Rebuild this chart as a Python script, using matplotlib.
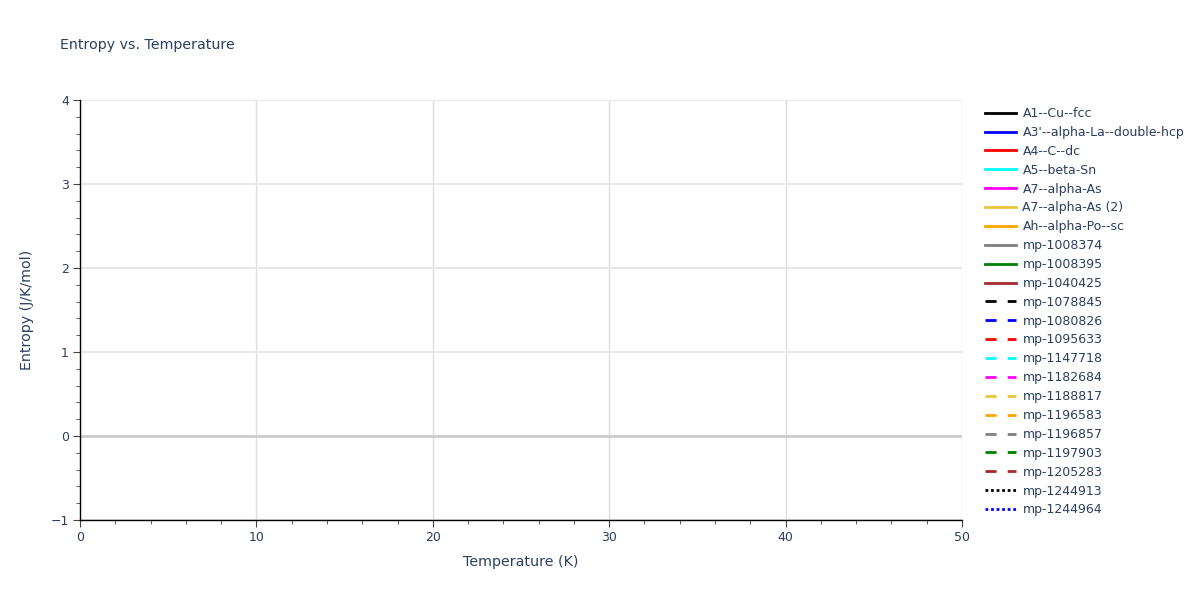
import matplotlib
matplotlib.use("Agg")
import matplotlib.pyplot as plt
from matplotlib.ticker import MultipleLocator

# series names, colours and dash styles (no points fall inside the plotted range)
names = [
    "A1--Cu--fcc", "A3'--alpha-La--double-hcp", "A4--C--dc", "A5--beta-Sn",
    "A7--alpha-As", "A7--alpha-As (2)", "Ah--alpha-Po--sc", "mp-1008374",
    "mp-1008395", "mp-1040425", "mp-1078845", "mp-1080826", "mp-1095633",
    "mp-1147718", "mp-1182684", "mp-1188817", "mp-1196583", "mp-1196857",
    "mp-1197903", "mp-1205283", "mp-1244913", "mp-1244964",
]
colors = [
    "black", "blue", "red", "cyan", "magenta", "#e8c53a", "orange", "gray",
    "green", "brown",
    "black", "blue", "red", "cyan", "magenta", "#e8c53a", "orange", "gray",
    "green", "brown",
    "black", "blue",
]
styles = ["solid"] * 10 + ["dash"] * 10 + ["dot"] * 2
temperature = [[] for _ in names]
entropy = [[] for _ in names]

dash_map = {"solid": "-", "dash": (0, (4, 4)), "dot": (0, (1, 1))}
text_color = "#2a3f5f"

fig = plt.figure(figsize=(12, 6), dpi=100)
ax = fig.add_axes([80 / 1200, 80 / 600, 882 / 1200, 420 / 600])

for name, c, s, x, y in zip(names, colors, styles, temperature, entropy):
    ax.plot(x, y, color=c, linestyle=dash_map[s], linewidth=2, label=name)

ax.set_xlim(0, 50)
ax.set_ylim(-1, 4)
ax.xaxis.set_major_locator(MultipleLocator(10))
ax.xaxis.set_minor_locator(MultipleLocator(2))
ax.yaxis.set_major_locator(MultipleLocator(1))
ax.yaxis.set_minor_locator(MultipleLocator(0.2))

ax.grid(True, which="major", axis="x", color="#dddddd", linewidth=1)
ax.grid(True, which="major", axis="y", color="#e8e8e8", linewidth=1.5)
ax.axhline(0, color="#cccccc", linewidth=2, zorder=1)
ax.set_axisbelow(True)

for side in ["top", "right"]:
    ax.spines[side].set_visible(False)
for side in ["left", "bottom"]:
    ax.spines[side].set_color("black")
    ax.spines[side].set_linewidth(1)

ax.tick_params(which="major", direction="out", length=5, color="#444444",
               labelsize=9, labelcolor=text_color, pad=3)
ax.tick_params(which="minor", direction="out", length=3, color="#444444")

ax.set_xlabel("Temperature (K)", fontsize=10.3, color=text_color, labelpad=8)
ax.set_ylabel("Entropy (J/K/mol)", fontsize=10.3, color=text_color, labelpad=12)
fig.text(60 / 1200, 1 - 45 / 600, "Entropy vs. Temperature", fontsize=10.2,
         color=text_color, va="center", ha="left")

leg = fig.legend(loc="upper left", bbox_to_anchor=(985 / 1200, 1 - 107 / 600),
                 frameon=False, fontsize=9, handlelength=2.5, handletextpad=0.5,
                 labelspacing=0.47, borderaxespad=0, borderpad=0)
for t in leg.get_texts():
    t.set_color(text_color)

fig.savefig("out.png", dpi=100)
